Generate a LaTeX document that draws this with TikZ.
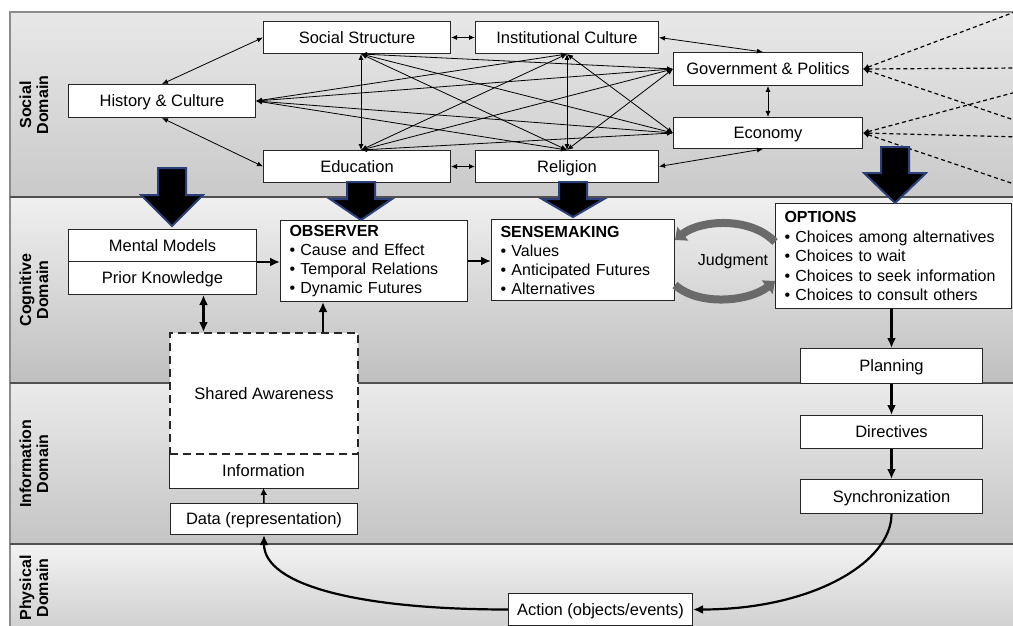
\documentclass[tikz,border=0pt]{standalone}
\usepackage{fontspec}
\setmainfont{Liberation Sans}
\usepackage{tikz}
\usetikzlibrary{arrows.meta}
\usetikzlibrary{calc}

\definecolor{arrowblue}{HTML}{2B3F7A}
\definecolor{bandline}{HTML}{505050}
\definecolor{judgegray}{HTML}{6A6A6A}

\tikzset{
	boxbase/.style={draw=black!85, fill=white, line width=1pt, inner sep=2pt, anchor=north west, font=\fontsize{16.5}{19}\selectfont},
	box/.style={boxbase, text height=13pt, text depth=1.5pt},
	listbox/.style={boxbase, align=left, inner xsep=9pt, inner ysep=3pt, font=\fontsize{16}{19}\selectfont},
	link/.style={{Latex[length=6pt,width=5pt]}-{Latex[length=6pt,width=5pt]}, line width=0.8pt},
	flow/.style={-{Latex[length=10pt,width=9pt]}, line width=2.2pt},
	outlink/.style={{Latex[length=6pt,width=6pt]}-, line width=1.2pt, dash pattern=on 4pt off 3pt},
	judge/.style={line width=8pt, draw=judgegray, -{Triangle[length=10pt,width=17pt]}},
	domlabel/.style={rotate=90, align=center, font=\bfseries\fontsize{16}{17}\selectfont},
}

\begin{document}
\begin{tikzpicture}[x=1pt, y=-1pt]
	\useasboundingbox (0,0) rectangle (1013,626);
	\clip (0,0) rectangle (1013,626);
	\fill[white] (0,0) rectangle (1013,626);

	% domain bands
	\shade[top color=black!9, bottom color=black!21] (10,12) rectangle (1013,197);
	\shade[top color=black!6, bottom color=black!25] (10,197) rectangle (1013,383);
	\shade[top color=black!8, bottom color=black!23] (10,383) rectangle (1013,544);
	\shade[top color=black!5, bottom color=black!18] (10,544) rectangle (1013,626);
	\draw[black!45, line width=1.5pt] (10,626) -- (10,12) -- (1013,12);
	\foreach \y in {197,383,544}
		\draw[bandline, line width=1.5pt] (10,\y) -- (1013,\y);

	\node[domlabel] (socd) at (34,105) {Social\\Domain};
	\node[domlabel] (cogd) at (34,290) {Cognitive\\Domain};
	\node[domlabel] (infd) at (34,464) {Information\\Domain};
	\node[domlabel] (phyd) at (34,588) {Physical\\Domain};

	% social domain
	\node[box, minimum width=187pt, minimum height=32pt] (ss) at (263,21) {Social Structure};
	\node[box, minimum width=183pt, minimum height=32pt] (ic) at (475,21) {Institutional Culture};
	\node[box, minimum width=187pt, minimum height=33pt] (hc) at (68,84) {History \& Culture};
	\node[box, minimum width=187pt, minimum height=32pt] (ed) at (263,150) {Education};
	\node[box, minimum width=183pt, minimum height=32pt] (re) at (475,150) {Religion};
	\node[box, minimum width=189pt, minimum height=33pt] (gp) at (673,52) {Government \& Politics};
	\node[box, minimum width=189pt, minimum height=31pt] (ec) at (673,117) {Economy};

	\coordinate (hcR) at (hc.east);
	\coordinate (ssB) at ([xshift=4pt]ss.south);
	\coordinate (edT) at ([xshift=4pt]ed.north);
	\coordinate (icB) at (ic.south);
	\coordinate (reT) at (re.north);
	\coordinate (gpW) at (gp.west);
	\coordinate (ecW) at (ec.west);
	\foreach \a/\b in {hcR/icB, hcR/reT, hcR/gpW, hcR/ecW, ssB/edT, ssB/reT, ssB/gpW, ssB/ecW,
		edT/icB, edT/gpW, edT/ecW, icB/reT, icB/ecW, reT/gpW}
		\draw[link] (\a) -- (\b);

	\draw[link] (hc.north) -- (ss.west);
	\draw[link] (hc.south) -- (ed.west);
	\draw[link] (ss.east) -- (ic.west);
	\draw[link] (ed.east) -- (re.west);
	\draw[link] (ic.east) -- ([xshift=-5pt]gp.north);
	\draw[link] (re.east) -- ([xshift=-5pt]ec.south);
	\draw[link] (gp.south) -- (ec.north);

	% links leaving the picture
	\foreach \n/\y in {g1/10, g2/68, g3/122, e1/91, e2/137, e3/186}
		\coordinate (\n) at (1020,\y);
	\foreach \n in {g1,g2,g3}
		\draw[outlink] (gp.east) -- (\n);
	\foreach \n in {e1,e2,e3}
		\draw[outlink] (ec.east) -- (\n);

	% cognitive domain
	\node[box, minimum width=188pt, minimum height=32pt] (mm) at (68,229) {Mental Models};
	\node[box, minimum width=188pt, minimum height=33pt] (pk) at (68,261) {Prior Knowledge};
	\node[listbox, text width=169pt, minimum height=81pt] (obs) at (280,220)
		{\textbf{OBSERVER}\\\textbullet\ Cause and Effect\\\textbullet\ Temporal Relations\\\textbullet\ Dynamic Futures};
	\node[listbox, text width=165pt, minimum height=81pt] (sen) at (491,219)
		{\textbf{SENSEMAKING}\\\textbullet\ Values\\\textbullet\ Anticipated Futures\\\textbullet\ Alternatives};
	\node[listbox, text width=218pt, minimum height=105pt, font=\fontsize{16}{19.5}\selectfont] (opt) at (775,203)
		{\textbf{OPTIONS}\\\textbullet\ Choices among alternatives\\\textbullet\ Choices to wait\\\textbullet\ Choices to seek information\\\textbullet\ Choices to consult others};
	\node[font=\fontsize{16}{19}\selectfont] (jud) at (733,261) {Judgment};

	\draw[flow] (mm.south east) -- (mm.south east -| obs.west);
	\draw[flow] (obs.east) -- (obs.east -| sen.west);
	\draw[judge] ([yshift=14pt]opt.west) .. controls +(-25,-26) and +(25,-20) .. ([yshift=20pt]sen.east);
	\draw[judge] ([yshift=-25pt]sen.east) .. controls +(25,22) and +(-25,20) .. ([yshift=-25pt]opt.west);

	% information domain
	\node[box, draw=none, minimum width=188pt, minimum height=34pt] (info) at (169,453) {Information};
	\draw[black!85, line width=1pt] (info.north west) -- (info.south west) -- (info.south east) -- (info.north east);
	\node[box, line width=2pt, dash pattern=on 8pt off 5pt, minimum width=188pt, minimum height=121pt] (sa) at (169,332) {Shared Awareness};
	\node[box, minimum width=187pt, minimum height=31pt] (data) at (170,503) {Data (representation)};

	\coordinate (pkS) at ([xshift=41pt]pk.south);
	\coordinate (saO) at ([xshift=59pt]sa.north);
	\draw[flow, {Latex[length=10pt,width=9pt]}-{Latex[length=10pt,width=9pt]}] (pkS) -- (pkS |- sa.north);
	\draw[flow] (saO) -- (saO |- obs.south);
	\draw[-{Latex[length=7pt,width=7pt]}, line width=1.5pt] (data.north) -- (info.south);

	\node[box, minimum width=182pt, minimum height=35pt] (plan) at (800,348) {Planning};
	\node[box, minimum width=182pt, minimum height=33pt] (dir) at (800,415) {Directives};
	\node[box, minimum width=182pt, minimum height=34pt] (sync) at (800,479) {Synchronization};
	\draw[flow] (plan.north |- opt.south) -- (plan.north);
	\draw[flow] (plan.south) -- (dir.north);
	\draw[flow] (dir.south) -- (sync.north);

	% physical domain
	\node[box, minimum width=184pt, minimum height=32pt] (act) at (508,593) {Action (objects/events)};
	\draw[flow] (sync.south) .. controls +(0,48) and +(120,0) .. (act.east);
	\draw[flow] (act.west) .. controls +(-150,0) and +(0,50) .. (data.south);

	% block arrows from the social domain
	\foreach \cx/\ytop/\yhead/\ytip in {172/168/195/226, 361/182/199/220, 573/182/199/217, 895/147/173/203}
		\filldraw[fill=black, draw=arrowblue, line width=2pt, line join=miter]
			(\cx-14,\ytop) -- (\cx+14,\ytop) -- (\cx+14,\yhead) -- (\cx+31,\yhead) -- (\cx,\ytip)
			-- (\cx-31,\yhead) -- (\cx-14,\yhead) -- cycle;
\end{tikzpicture}
\end{document}
